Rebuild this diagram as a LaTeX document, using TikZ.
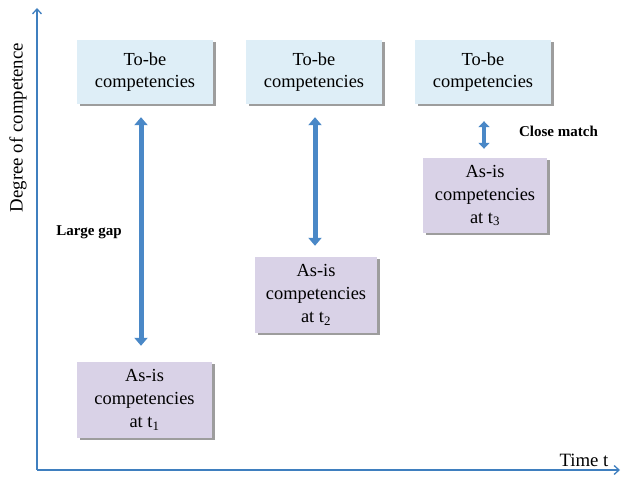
\documentclass[tikz,border=0pt]{standalone}
\usepackage{fontspec}
\setmainfont{Liberation Serif}
\usetikzlibrary{arrows.meta,shadows}
\definecolor{tobefill}{HTML}{DEEEF7}
\definecolor{asisfill}{HTML}{D9D2E7}
\definecolor{arrowblue}{HTML}{4A88C7}
\definecolor{axisblue}{HTML}{3F7FBF}
\tikzset{
  boxbase/.style={draw=none, align=center, font=\fontsize{18.4}{22}\selectfont,
    drop shadow={shadow xshift=2.5pt, shadow yshift=-2.5pt, opacity=0.55, fill=black!70}},
  tobe/.style={boxbase, fill=tobefill, minimum width=136pt, minimum height=64pt},
  asis/.style={boxbase, fill=asisfill, minimum height=76pt, font=\fontsize{18.4}{23}\selectfont},
  gaparrow/.style={draw=arrowblue, line width=5pt,
    {Triangle[width=13pt,length=8pt]}-{Triangle[width=13pt,length=8pt]}},
  axis/.style={draw=axisblue, line width=1.3pt, -{Straight Barb[length=5pt,width=9pt]}},
  smalllabel/.style={font=\bfseries\fontsize{15}{17}\selectfont},
  axislabel/.style={font=\fontsize{18.8}{21}\selectfont}
}
\begin{document}
\begin{tikzpicture}[x=1pt,y=1pt]
\useasboundingbox (0,0) rectangle (621,479);
% axes
\coordinate (origin) at (37,9);
\coordinate (ytop) at (37,471);
\coordinate (xend) at (620,9);
\draw[axis] (origin) -- (ytop);
\draw[axis] (origin) -- (xend);
\node[axislabel, rotate=90] (ylab) at (18,351.5) {Degree of competence};
\node[axislabel] (xlab) at (584,19) {Time t};
% boxes
\node[tobe] (tb1) at (145,407) {To-be\\competencies};
\node[tobe] (tb2) at (314,407) {To-be\\competencies};
\node[tobe] (tb3) at (483,407) {To-be\\competencies};
\node[asis, minimum width=135pt] (as1) at (144.5,79) {As-is\\competencies\\at t\textsubscript{1}};
\node[asis, minimum width=122pt] (as2) at (316,184) {As-is\\competencies\\at t\textsubscript{2}};
\node[asis, minimum width=124pt, minimum height=75pt] (as3) at (485,283.5) {As-is\\competencies\\at t\textsubscript{3}};
% gap arrows
\draw[gaparrow, shorten <=13pt, shorten >=16pt] ([xshift=-4pt]tb1.south) -- ([xshift=-3.5pt]as1.north);
\draw[gaparrow, shorten <=13pt, shorten >=11pt] ([xshift=1pt]tb2.south) -- ([xshift=-1pt]as2.north);
\draw[gaparrow, line width=4pt, {Triangle[width=11pt,length=6pt]}-{Triangle[width=11pt,length=6pt]}, shorten <=17pt, shorten >=9pt] ([xshift=1pt]tb3.south) -- ([xshift=-1pt]as3.north);
% labels
\node[smalllabel] (lg) at (89,247) {Large gap};
\node[smalllabel] (cm) at (558.5,348) {Close match};
\end{tikzpicture}
\end{document}
